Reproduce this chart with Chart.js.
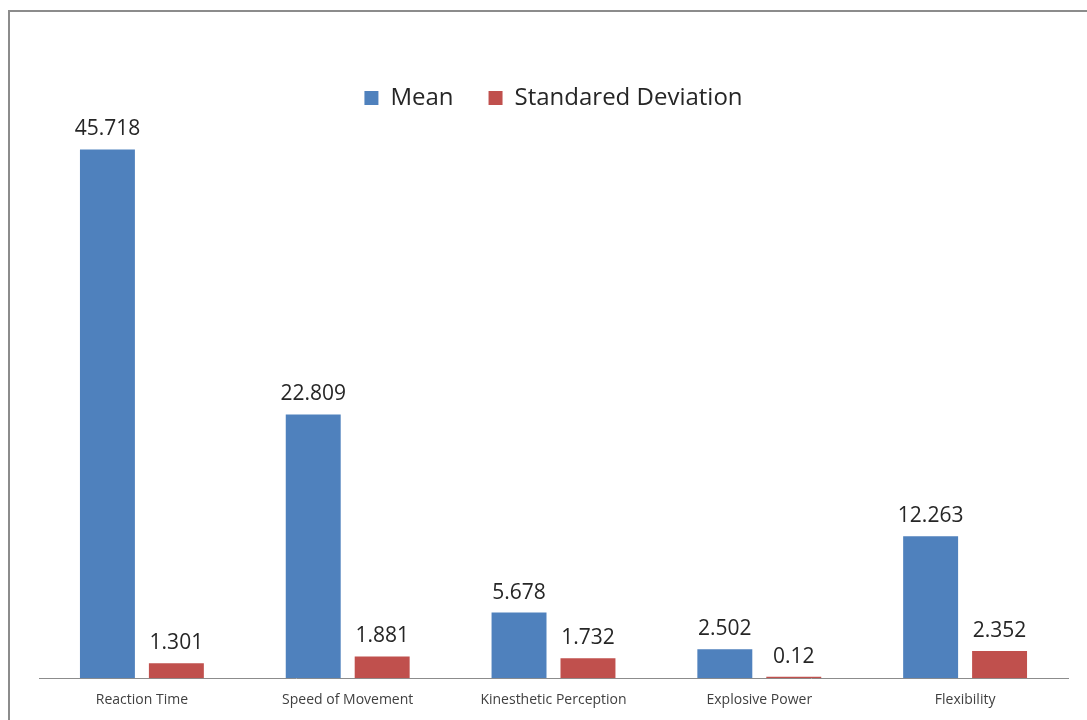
<!DOCTYPE html>
<html lang="en">
<head>
  <meta charset="UTF-8" />
  <title>Mean and Standard Deviation</title>
  <script src="https://cdn.jsdelivr.net/npm/chart.js"></script>
  <style>
    body { margin: 0; background: #fff; }
    .wrap { position: relative; width: 1087px; height: 720px; }
    .frame {
      position: absolute; left: 8px; top: 10px; width: 1200px; height: 800px;
      border-left: 2px solid #8c8c8c; border-top: 2px solid #8c8c8c;
      pointer-events: none;
    }
  </style>
</head>
<body>
<div class="wrap">
  <canvas id="chart" width="1087" height="720"></canvas>
  <div class="frame"></div>
</div>
<script>
  const categories = ['Reaction Time', 'Speed of Movement', 'Kinesthetic Perception', 'Explosive Power', 'Flexibility'];
  const meanValues = [45.718, 22.809, 5.678, 2.502, 12.263];
  const sdValues = [1.301, 1.881, 1.732, 0.12, 2.352];

  // value labels above each bar
  const valueLabels = {
    id: 'valueLabels',
    afterDatasetsDraw(chart) {
      const ctx = chart.ctx;
      ctx.save();
      ctx.font = '21px "Open Sans", sans-serif';
      ctx.fillStyle = '#262626';
      ctx.textAlign = 'center';
      ctx.textBaseline = 'middle';
      chart.data.datasets.forEach((ds, i) => {
        chart.getDatasetMeta(i).data.forEach((bar, j) => {
          ctx.fillText(String(ds.data[j]), bar.x, bar.y - 20);
        });
      });
      ctx.restore();
    }
  };

  // fixed legend height so the plot top stays put
  const legendSpace = {
    id: 'legendSpace',
    beforeInit(chart) {
      const fit = chart.legend.fit;
      chart.legend.fit = function () {
        fit.bind(chart.legend)();
        this.height = 72;
      };
    }
  };

  new Chart(document.getElementById('chart'), {
    type: 'bar',
    data: {
      labels: categories,
      datasets: [
        { label: 'Mean', data: meanValues, backgroundColor: '#4f81bd' },
        { label: 'Standared Deviation', data: sdValues, backgroundColor: '#c0504d' }
      ]
    },
    options: {
      responsive: false,
      animation: false,
      categoryPercentage: 0.67,
      barPercentage: 0.797,
      layout: { padding: { left: 39, right: 19, top: 51, bottom: 7 } },
      plugins: {
        legend: {
          labels: {
            boxWidth: 14, boxHeight: 14, padding: 35,
            color: '#262626',
            font: { size: 24, family: '"Open Sans", sans-serif' }
          }
        },
        tooltip: { enabled: false }
      },
      scales: {
        x: {
          grid: { display: false },
          border: { color: '#8c8c8c', width: 1 },
          ticks: { color: '#404040', padding: 5, font: { size: 14, family: '"Open Sans", sans-serif' } }
        },
        y: {
          display: false,
          min: 0,
          max: 48
        }
      }
    },
    plugins: [valueLabels, legendSpace]
  });
</script>
</body>
</html>
